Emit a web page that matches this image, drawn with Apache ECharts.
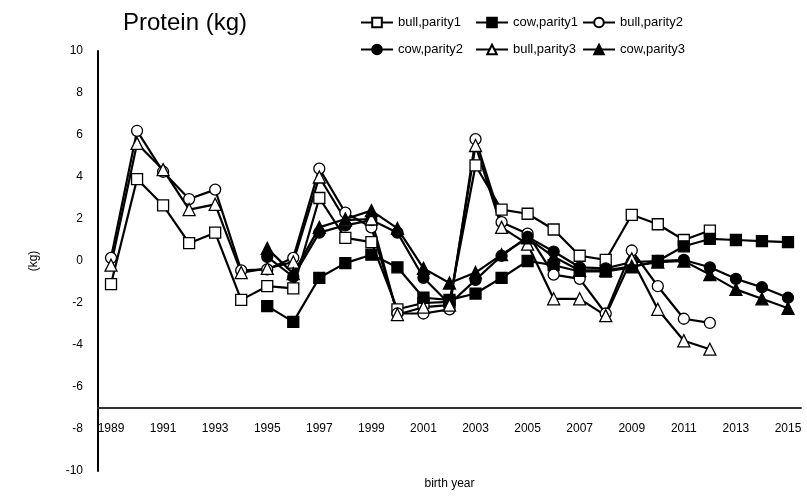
<!DOCTYPE html>
<html>
<head>
<meta charset="utf-8">
<script src="https://cdn.jsdelivr.net/npm/echarts@6/dist/echarts.min.js"></script>
<style>
  html, body { margin: 0; padding: 0; background: #fff; }
  #chart { width: 807px; height: 496px; }
</style>
</head>
<body>
<div id="chart"></div>
<script>
// Birth years on the category axis
const years = [];
for (let y = 1989; y <= 2015; y++) years.push(String(y));

// Protein trend (kg) per birth year; null where no value exists
const bullParity1 = [-1.1, 3.9, 2.65, 0.85, 1.35, -1.85, -1.2, -1.3, 3.0, 1.1, 0.9, -2.3, -2.0, -1.95, 4.55, 2.45, 2.25, 1.5, 0.25, 0.05, 2.2, 1.75, 1.0, 1.45, null, null, null];
const cowParity1  = [null, null, null, null, null, null, -2.15, -2.9, -0.8, -0.1, 0.3, -0.3, -1.75, -1.85, -1.55, -0.8, 0.0, -0.2, -0.5, -0.5, -0.3, 0.0, 0.7, 1.05, 1.0, 0.95, 0.9];
const bullParity2 = [0.15, 6.2, 4.25, 2.95, 3.4, -0.45, -0.4, 0.15, 4.4, 2.3, 1.6, -2.5, -2.5, -2.3, 5.8, 1.85, 1.3, -0.65, -0.85, -2.5, 0.5, -1.2, -2.75, -2.95, null, null, null];
const cowParity2  = [null, null, null, null, null, null, 0.2, -0.75, 1.35, 1.7, 1.95, 1.35, -0.8, -2.05, -0.9, 0.25, 1.15, 0.45, -0.3, -0.35, -0.05, 0.0, 0.05, -0.3, -0.85, -1.25, -1.75];
const bullParity3 = [-0.2, 5.6, 4.35, 2.45, 2.7, -0.55, -0.35, -0.05, 4.0, 1.95, 2.0, -2.55, -2.2, -2.1, 5.5, 1.6, 0.8, -1.8, -1.8, -2.6, 0.1, -2.3, -3.8, -4.2, null, null, null];
const cowParity3  = [null, null, null, null, null, null, 0.6, -0.6, 1.6, 2.0, 2.4, 1.55, -0.35, -1.05, -0.55, 0.3, 1.1, 0.2, -0.45, -0.45, -0.25, -0.05, 0.0, -0.65, -1.35, -1.8, -2.25];

const yTicks = { min: -10, max: 10, step: 2 };
const xAxisCrossValue = -7;

const FONT = '"Liberation Sans", Arial, sans-serif';

function makeSeries(name, data, symbol, filled) {
  return {
    name: name,
    type: 'line',
    data: data,
    symbol: symbol,
    symbolSize: symbol === 'triangle' ? 12 : 11,
    showAllSymbol: true,
    connectNulls: false,
    lineStyle: { color: '#000', width: 2.2 },
    itemStyle: {
      color: filled ? '#000' : '#fff',
      borderColor: '#000',
      borderWidth: 1.3
    },
    emphasis: { disabled: true },
    animation: false
  };
}

const series = [
  makeSeries('bull,parity1', bullParity1, 'rect', false),
  makeSeries('cow,parity1', cowParity1, 'rect', true),
  makeSeries('bull,parity2', bullParity2, 'circle', false),
  makeSeries('cow,parity2', cowParity2, 'circle', true),
  makeSeries('bull,parity3', bullParity3, 'triangle', false),
  makeSeries('cow,parity3', cowParity3, 'triangle', true)
];

const gridTop = 51, gridBottom = 25;
const plotH = 496 - gridTop - gridBottom;
const pxPerUnit = plotH / (yTicks.max - yTicks.min);
const xAxisOffset = -(xAxisCrossValue - yTicks.min) * pxPerUnit;

function legendColumn(left, names) {
  return {
    orient: 'vertical',
    left: left,
    top: 16,
    padding: 0,
    itemWidth: 32,
    itemHeight: 12,
    itemGap: 14,
    data: names,
    textStyle: { fontFamily: FONT, fontSize: 13, color: '#000' },
    selectedMode: false
  };
}

const chart = echarts.init(document.getElementById('chart'), null, { renderer: 'canvas' });
chart.setOption({
  animation: false,
  backgroundColor: '#fff',
  title: {
    text: 'Protein (kg)',
    left: 118,
    top: 6,
    textStyle: { fontFamily: FONT, fontSize: 24, fontWeight: 'normal', color: '#000' }
  },
  legend: [
    legendColumn(360, ['bull,parity1', 'cow,parity2']),
    legendColumn(475, ['cow,parity1', 'bull,parity3']),
    legendColumn(582, ['bull,parity2', 'cow,parity3'])
  ],
  grid: { left: 98, right: 6, top: gridTop, bottom: gridBottom },
  xAxis: {
    type: 'category',
    data: years,
    boundaryGap: true,
    offset: xAxisOffset,
    axisLine: { show: true, onZero: false, lineStyle: { color: '#333', width: 2 } },
    axisTick: { show: false },
    axisLabel: { interval: 1, margin: 15, fontFamily: FONT, fontSize: 12, color: '#000' },
    splitLine: { show: false },
    name: 'birth year',
    nameLocation: 'middle',
    nameGap: 70,
    nameTextStyle: { fontFamily: FONT, fontSize: 12, color: '#000' }
  },
  yAxis: {
    type: 'value',
    min: yTicks.min,
    max: yTicks.max,
    interval: yTicks.step,
    axisLine: { show: true, lineStyle: { color: '#000', width: 2 } },
    axisTick: { show: false },
    axisLabel: { margin: 15, fontFamily: FONT, fontSize: 12, color: '#000' },
    splitLine: { show: false },
    name: '(kg)',
    nameLocation: 'middle',
    nameGap: 58,
    nameTextStyle: { fontFamily: FONT, fontSize: 12, color: '#000' }
  },
  series: series
});
</script>
</body>
</html>
